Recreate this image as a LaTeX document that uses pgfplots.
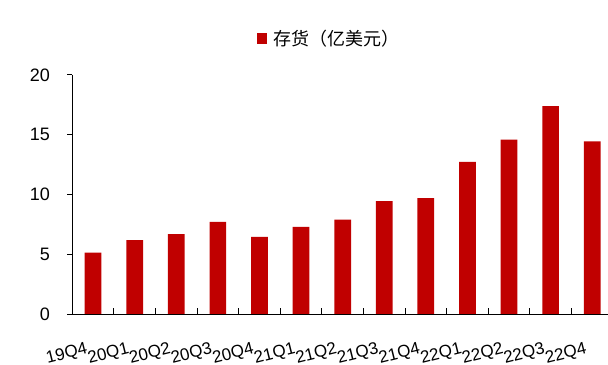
\documentclass[border=0pt]{standalone}
\usepackage{pgfplots}
\pgfplotsset{compat=1.18}
\usepackage{fontspec}
\setmainfont{Liberation Sans}
\newfontfamily\cjk{Noto Sans CJK SC}
\definecolor{barred}{HTML}{C00000}
\begin{document}
\begin{tikzpicture}
\useasboundingbox (0,0) rectangle (608bp,365bp);
\begin{axis}[
  at={(72.3bp,51bp)}, anchor=south west,
  scale only axis, width=535.7bp, height=239bp,
  xmin=-0.5, xmax=12.38, ymin=0, ymax=20,
  axis x line*=bottom, axis y line*=left,
  axis line style={black, line width=1bp},
  tick pos=left,
  tick style={black, line width=1bp},
  major tick length=-5.5bp,
  xtick={-0.5,0.5,...,11.5},
  xticklabels={19Q4,20Q1,20Q2,20Q3,20Q4,21Q1,21Q2,21Q3,21Q4,22Q1,22Q2,22Q3,22Q4},
  ytick={0,5,10,15,20},
  /pgf/number format/assume math mode=true,
  yticklabel style={font=\fontsize{18bp}{21bp}\selectfont, xshift=-19bp},
  xticklabel style={font=\fontsize{17bp}{20bp}\selectfont, rotate=14, anchor=east, xshift=8bp, yshift=-43bp},
  ybar, bar width=16.7bp,
  legend style={at={(0.48,1.153)}, anchor=center, draw=none, fill=none,
    font=\cjk\fontsize{18bp}{21bp}\selectfont},
  legend image code/.code={\fill[#1] (0bp,-5.5bp) rectangle (10bp,5.5bp);},
  legend cell align=left,
]
\addplot[fill=barred, draw=none] coordinates {
(0,5.13) (1,6.19) (2,6.69) (3,7.7) (4,6.45) (5,7.3) (6,7.9) (7,9.45) (8,9.7) (9,12.72) (10,14.6) (11,17.4) (12,14.45)};
\addlegendentry{\hspace{5bp}存货（亿美元）}
\end{axis}
\end{tikzpicture}
\end{document}
